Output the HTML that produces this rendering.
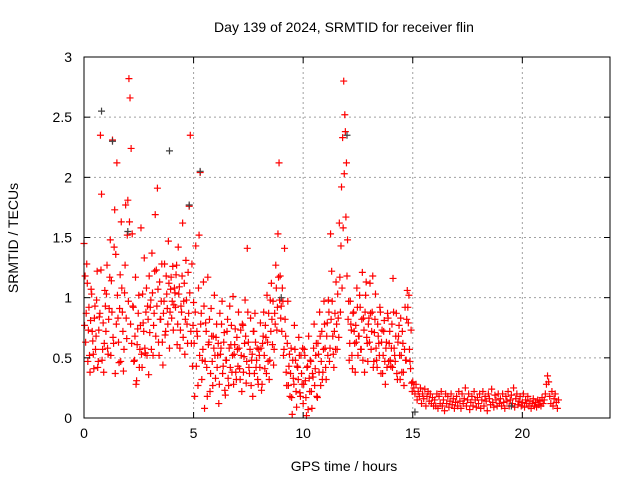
<!DOCTYPE html>
<html><head><meta charset="utf-8"><style>
body{margin:0;background:#fff;}
svg{display:block;font-family:"Liberation Sans",sans-serif;}
</style></head><body>
<svg id="chart" width="640" height="480" xmlns="http://www.w3.org/2000/svg">
<rect width="640" height="480" fill="#fff"/>
<text x="344" y="32" font-size="14" text-anchor="middle">Day 139 of 2024, SRMTID for receiver flin</text>
<text transform="translate(18,238) rotate(-90)" font-size="14" text-anchor="middle">SRMTID / TECUs</text>
<text x="344" y="471" font-size="14" text-anchor="middle">GPS time / hours</text>
<g id="grid"></g><g id="marks"></g><g id="axes"></g>
</svg>
<script>
const xTicks=[0,5,10,15,20];
const yTicks=[0,0.5,1,1.5,2,2.5,3];
const yTickLabels=["0","0.5","1","1.5","2","2.5","3"];
const sampleStep=0.05;
const seriesA=[
1.45,1.18,0.87,1.12,0.73,0.52,0.81,1.03,0.64,0.41,0.93,0.68,1.22,0.47,0.84,2.35,1.86,0.57,0.38,1.06,
0.72,1.27,0.53,0.91,1.48,1.14,2.31,0.62,1.73,1.36,2.12,0.83,0.46,1.19,1.63,0.88,0.39,1.04,1.77,0.66,
1.81,2.82,2.66,2.24,1.53,0.92,0.48,1.17,0.31,0.74,1.02,0.57,1.58,0.42,0.79,1.33,0.54,1.08,0.93,0.36,
0.71,0.98,1.37,0.52,0.87,1.69,1.23,1.91,0.63,1.13,0.82,1.28,0.44,0.97,0.69,1.18,0.91,1.47,0.58,1.07,
0.83,1.26,0.94,1.04,1.19,0.61,1.42,1.09,0.73,0.88,1.62,0.97,0.53,1.31,0.78,1.21,1.76,2.35,0.62,0.43,
0.96,0.18,1.43,0.72,0.27,1.52,2.04,0.87,0.48,1.13,0.08,0.79,0.42,1.17,0.63,0.22,0.91,0.47,0.68,1.02,
0.33,0.78,0.52,0.12,0.87,0.58,0.97,0.43,0.71,0.19,0.48,0.82,0.27,0.93,0.61,0.38,1.01,0.53,0.74,0.32,
0.57,0.88,0.41,0.73,0.22,0.77,0.51,0.98,0.29,1.41,0.63,0.37,0.83,0.48,0.18,0.72,0.87,0.42,0.58,0.28,
0.52,0.79,0.23,0.62,0.88,0.41,0.67,1.02,0.47,0.32,0.98,1.12,0.61,0.44,0.87,1.27,0.73,1.53,2.12,1.18,
0.93,1.08,0.52,1.41,0.68,0.27,0.97,0.43,0.18,0.58,0.03,0.33,0.77,0.48,0.09,0.42,0.67,0.21,0.52,0.28,
0.12,0.57,0.31,0.02,0.43,0.68,0.22,0.47,0.08,0.34,0.78,0.41,0.62,0.17,0.53,0.88,0.27,0.72,0.38,0.97,
0.58,0.32,0.79,0.98,0.47,1.53,1.22,0.68,0.42,0.87,1.13,0.57,0.83,1.62,0.88,1.92,2.33,2.8,2.52,1.67,
1.18,0.82,0.48,0.97,0.73,0.41,0.88,0.62,0.77,1.08,0.52,0.68,0.92,0.57,1.21,0.83,0.38,1.02,0.67,0.47,
0.83,1.12,0.57,0.88,0.42,0.71,1.03,0.48,0.78,0.62,0.92,0.37,0.73,0.52,0.81,0.28,0.63,0.87,0.47,0.72,
0.43,0.78,1.16,0.58,0.47,0.87,0.32,0.68,0.52,0.83,0.38,0.62,0.27,0.92,0.48,1.06,0.79,0.57,0.41,0.29,
0.3,0.25,0.2,0.28,0.15,0.22,0.18,0.25,0.12,0.2,0.16,0.24,0.1,0.18,0.22,0.14,0.2,0.12,0.17,0.1,
0.15,0.1,0.2,0.08,0.18,0.12,0.22,0.1,0.15,0.06,0.2,0.12,0.18,0.09,0.14,0.2,0.11,0.16,0.08,0.13,
0.18,0.1,0.22,0.14,0.08,0.2,0.12,0.16,0.25,0.1,0.15,0.2,0.07,0.13,0.18,0.1,0.22,0.15,0.09,0.17,
0.12,0.2,0.08,0.15,0.22,0.1,0.18,0.14,0.06,0.2,0.16,0.11,0.24,0.13,0.09,0.19,0.15,0.1,0.2,0.12,
0.16,0.1,0.2,0.13,0.08,0.18,0.14,0.22,0.1,0.15,0.19,0.12,0.25,0.09,0.16,0.2,0.11,0.14,0.18,0.1,
0.13,0.2,0.09,0.15,0.12,0.18,0.1,0.14,0.08,0.12,0.16,0.1,0.13,0.09,0.15,0.11,0.14,0.1,0.17,0.12,
0.15,0.2,0.28,0.35,0.3,0.18,0.12,0.22,0.1,0.16,0.2,0.13,0.08,0.15
];
const seriesBStart=0.025;
const seriesB=[
0.77,0.63,1.28,0.47,0.92,0.38,1.07,0.72,0.53,0.83,0.57,0.98,0.42,0.73,0.87,1.23,0.48,0.79,0.62,0.93,
1.03,0.58,0.82,1.17,0.52,0.88,0.67,1.42,0.37,0.78,1.02,0.63,0.91,0.47,1.08,0.72,0.57,1.27,0.83,1.52,
0.97,1.63,0.78,0.62,0.93,0.47,0.68,0.28,0.61,0.87,0.42,0.77,0.53,1.03,0.72,0.58,0.88,0.52,0.82,1.18,
0.92,0.57,1.04,0.77,1.22,0.68,0.93,1.07,0.52,0.82,0.97,0.63,0.87,1.28,0.72,1.03,0.78,1.12,0.88,1.17,
0.97,0.73,1.08,0.92,1.27,0.78,1.03,0.58,0.93,1.18,0.67,1.12,0.82,0.98,0.62,0.87,1.04,0.72,1.28,0.77,
0.62,0.88,0.43,0.68,1.08,0.52,0.78,0.32,0.57,0.93,0.47,0.72,0.18,0.61,0.82,0.37,0.68,0.27,0.58,0.52,
0.67,0.42,0.62,0.28,0.53,0.78,0.37,0.63,0.23,0.48,0.72,0.33,0.58,0.42,0.77,0.52,0.28,0.61,0.38,0.67,
0.43,0.58,0.32,0.52,0.78,0.38,0.62,0.68,0.47,0.88,0.42,0.57,0.27,0.53,0.72,0.37,0.63,0.48,0.32,0.57,
0.42,0.58,0.28,0.68,0.52,0.77,0.37,0.63,0.87,0.48,0.72,0.82,0.97,0.57,0.78,1.08,0.92,1.17,0.98,0.83,
0.72,0.97,0.57,0.82,0.38,0.62,0.27,0.53,0.37,0.17,0.48,0.28,0.57,0.22,0.43,0.32,0.52,0.18,0.37,0.58,
0.28,0.52,0.17,0.42,0.07,0.33,0.48,0.22,0.37,0.58,0.27,0.52,0.18,0.62,0.38,0.68,0.47,0.32,0.57,0.78,
0.42,0.68,0.52,0.88,0.58,0.82,0.97,0.53,0.72,0.57,0.78,1.03,0.67,1.17,1.43,1.08,1.58,2.03,2.38,2.12,
1.48,0.97,0.62,0.78,0.52,0.87,0.72,0.38,0.63,0.92,0.68,1.02,0.57,0.82,0.48,0.73,0.88,1.13,0.62,0.78,
0.63,0.87,0.72,1.18,0.47,0.82,0.58,0.42,0.68,0.52,0.88,0.63,0.37,0.72,0.47,0.58,0.42,0.83,0.62,0.48,
0.58,0.42,0.88,0.52,0.68,0.37,0.63,0.77,0.32,0.52,0.72,0.38,0.57,0.48,0.82,0.92,1.02,0.47,0.73,0.22
];
const grayTimes=[0.8,1.3,3.9,4.8,5.3,2.0,12.0,9.0,15.1,19.5];
const grayValues=[2.55,2.3,2.22,1.77,2.05,1.55,2.35,1.0,0.05,0.1];

const L=84,R=610,T=57,B=418,XMAX=24,YMAX=3;
const xs=v=>L+(R-L)*v/XMAX;
const ys=v=>B-(B-T)*v/YMAX;
const NS="http://www.w3.org/2000/svg";
function mk(tag,attrs,parent){const e=document.createElementNS(NS,tag);for(const k in attrs)e.setAttribute(k,attrs[k]);parent.appendChild(e);return e;}
const grid=document.getElementById('grid'),marks=document.getElementById('marks'),axes=document.getElementById('axes');
xTicks.forEach(t=>{
  const x=xs(t);
  if(t>0){const g=mk('line',{x1:x,x2:x,y1:T,y2:B,stroke:'#a0a0a0','stroke-dasharray':'2,3'},grid);
  
  }
  mk('line',{x1:x,x2:x,y1:B,y2:B-6,stroke:'#000'},axes);
  mk('line',{x1:x,x2:x,y1:T,y2:T+6,stroke:'#000'},axes);
  const tx=mk('text',{x:x,y:B+20,'font-size':14,'text-anchor':'middle'},axes);
  tx.textContent=String(t);
  
  
});
yTicks.forEach((t,i)=>{
  const y=ys(t);
  if(t>0&&t<YMAX){const g=mk('line',{x1:L,x2:R,y1:y,y2:y,stroke:'#a0a0a0','stroke-dasharray':'2,3'},grid);
  
  }
  mk('line',{x1:L,x2:L+6,y1:y,y2:y,stroke:'#000'},axes);
  mk('line',{x1:R,x2:R-6,y1:y,y2:y,stroke:'#000'},axes);
  const tx=mk('text',{x:L-12,y:y+5,'font-size':14,'text-anchor':'end'},axes);
  tx.textContent=yTickLabels[i];
  
  
});
const frame=mk('rect',{x:L,y:T,width:R-L,height:B-T,fill:'none',stroke:'#000'},axes);


function plus(t,v,color){
  const x=xs(t),y=ys(v);
  const p=mk('path',{d:`M${x-3.5},${y}H${x+3.5}M${x},${y-3.5}V${y+3.5}`,stroke:color,'stroke-width':1.2,fill:'none'},marks);
  
  
}
seriesA.forEach((v,i)=>plus(i*sampleStep,v,'#ff0000'));
seriesB.forEach((v,i)=>plus(seriesBStart+i*sampleStep,v,'#ff0000'));
grayTimes.forEach((t,i)=>plus(t,grayValues[i],'#404040'));
</script>
</body></html>
